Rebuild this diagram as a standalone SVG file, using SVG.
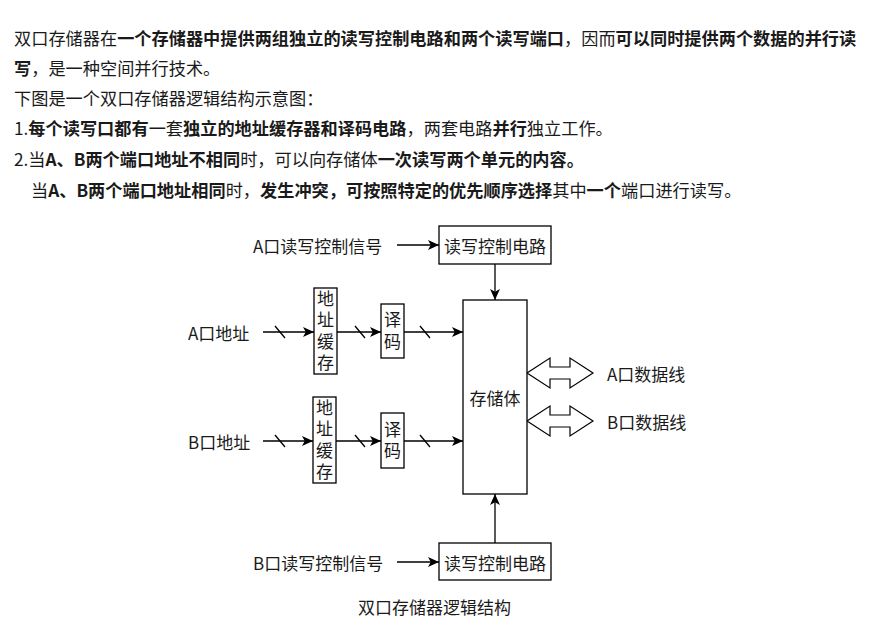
<svg xmlns="http://www.w3.org/2000/svg" width="876" height="633" viewBox="0 0 876 633">
<style>
text{font-family:"Noto Sans CJK SC","Noto Sans",sans-serif;fill:#1a1a1a;dominant-baseline:central}
.p{font-size:17.2px}
.b{font-weight:bold}
.d{font-size:17px}
.m{text-anchor:middle}
.v{writing-mode:vertical-rl;letter-spacing:4.5px}
.box{fill:#fff;stroke:#000;stroke-width:1.3}
.ln{fill:none;stroke:#000;stroke-width:1.3}
.bus{fill:#fff;stroke:#000;stroke-width:1.2;stroke-linejoin:miter}
</style>
<defs>
<marker id="ah" viewBox="0 0 10 10" refX="10" refY="5" markerWidth="11" markerHeight="11" markerUnits="userSpaceOnUse" orient="auto">
<path d="M0,0.5 L10,5 L0,9.5 L2.5,5 z" fill="#000"/>
</marker>
</defs>
<rect width="876" height="633" fill="#fff"/>
<g id="paragraph">
<text class="p" x="14" y="37">双口存储器在<tspan class="b">一个存储器中提供两组独立的读写控制电路和两个读写端口</tspan>，因而<tspan class="b">可以同时提供两个数据的并行读</tspan></text>
<text class="p" x="14" y="67"><tspan class="b">写</tspan>，是一种空间并行技术。</text>
<text class="p" x="14" y="97">下图是一个双口存储器逻辑结构示意图：</text>
<text class="p" x="14" y="127">1.<tspan class="b">每个读写口都有</tspan>一套<tspan class="b">独立的地址缓存器和译码电路</tspan>，两套电路<tspan class="b">并行</tspan>独立工作。</text>
<text class="p" x="14" y="158">2.当<tspan class="b">A、B两个端口地址不相同</tspan>时，可以向存储体<tspan class="b">一次读写两个单元的内容。</tspan></text>
<text class="p" x="31" y="189">当<tspan class="b">A、B两个端口地址相同</tspan>时，<tspan class="b">发生冲突，可按照特定的优先顺序选择</tspan>其中<tspan class="b">一个</tspan>端口进行读写。</text>
</g>
<g id="connectors">
<path class="ln" d="M397,245 H439" marker-end="url(#ah)"/>
<path class="ln" d="M495,264 V300" marker-end="url(#ah)"/>
<path class="ln" d="M263,332 H314" marker-end="url(#ah)"/>
<path class="ln" d="M337,332 H381" marker-end="url(#ah)"/>
<path class="ln" d="M404,332 H463" marker-end="url(#ah)"/>
<path class="ln" d="M263,441 H313" marker-end="url(#ah)"/>
<path class="ln" d="M336,441 H381" marker-end="url(#ah)"/>
<path class="ln" d="M404,441 H463" marker-end="url(#ah)"/>
<path class="ln" d="M397,562 H439" marker-end="url(#ah)"/>
<path class="ln" d="M495,543 V494" marker-end="url(#ah)"/>
<path class="ln" d="M275,326 L285,338 M355,326 L365,338 M420,326 L430,338 M275,435 L285,447 M355,435 L365,447 M420,435 L430,447"/>
<polygon class="bus" points="527,373 550,358 550,367 570,367 570,358 593,373 570,388 570,379 550,379 550,388"/>
<polygon class="bus" points="527,421 550,406 550,415 570,415 570,406 593,421 570,436 570,427 550,427 550,436"/>
</g>
<g id="label-a-ctrl"><text class="d" x="253" y="245">A口读写控制信号</text></g>
<g id="ctrl-a"><rect class="box" x="439" y="226" width="112" height="38"/><text class="d m" x="495" y="245">读写控制电路</text></g>
<g id="label-a-addr"><text class="d" x="188" y="332">A口地址</text></g>
<g id="buf-a"><rect class="box" x="314" y="288" width="23" height="86"/>
<text class="d m v" x="325.5" y="333">地址缓存</text></g>
<g id="dec-a"><rect class="box" x="381" y="304" width="23" height="54"/>
<text class="d m v" x="392.5" y="333">译码</text></g>
<g id="storage"><rect class="box" x="463" y="300" width="64" height="194"/><text class="d m" x="495" y="397">存储体</text></g>
<g id="label-a-data"><text class="d" x="607" y="373">A口数据线</text></g>
<g id="label-b-data"><text class="d" x="607" y="421">B口数据线</text></g>
<g id="label-b-addr"><text class="d" x="188" y="441">B口地址</text></g>
<g id="buf-b"><rect class="box" x="313" y="397" width="23" height="86"/>
<text class="d m v" x="324.5" y="442">地址缓存</text></g>
<g id="dec-b"><rect class="box" x="381" y="413" width="23" height="55"/>
<text class="d m v" x="392.5" y="442.5">译码</text></g>
<g id="label-b-ctrl"><text class="d" x="253" y="562">B口读写控制信号</text></g>
<g id="ctrl-b"><rect class="box" x="439" y="543" width="112" height="37"/><text class="d m" x="495" y="562">读写控制电路</text></g>
<g id="caption"><text class="d m" x="434.5" y="606">双口存储器逻辑结构</text></g>
</svg>
